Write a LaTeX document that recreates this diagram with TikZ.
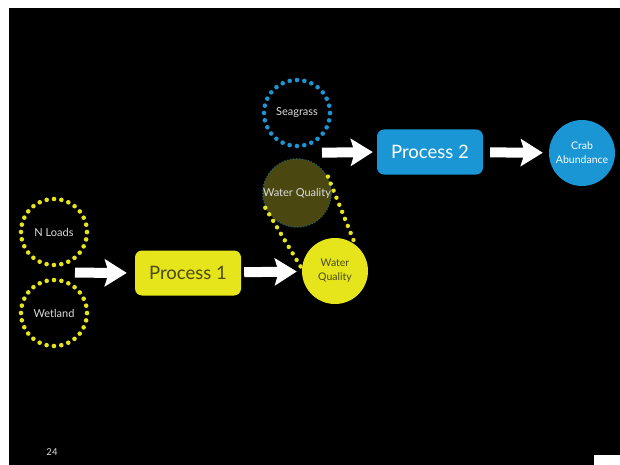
\documentclass[tikz,border=0pt]{standalone}
\usepackage{fontspec}
\setmainfont{Lato}
\usetikzlibrary{arrows.meta,positioning,calc}
\definecolor{slideyellow}{HTML}{E6E41A}
\definecolor{slideblue}{HTML}{1A96D4}
\definecolor{fadedolive}{HTML}{4A4710}
\definecolor{fadeddots}{HTML}{1F5F6E}
\definecolor{procink}{HTML}{4A4A14}
\definecolor{labelgray}{HTML}{DCDCDC}

\begin{document}
\begin{tikzpicture}[x=1pt, y=-1pt,
    dotring/.style={circle, minimum size=66pt, inner sep=0pt, draw=#1, line width=4.6pt, line cap=round, dash pattern=on 0pt off 7.4pt, text=labelgray, font=\fontsize{11}{13}\selectfont},
    solidring/.style={circle, minimum size=66pt, inner sep=0pt, fill=#1, align=center, font=\fontsize{10.5}{14}\selectfont},
    procbox/.style={rounded corners=7pt, minimum width=106pt, minimum height=45pt, fill=#1, font=\fontsize{18.5}{22}\selectfont},
    fatarrow/.style={white, line width=10pt, -{Stealth[width=27pt,length=22pt,inset=4pt]}},
    dotlink/.style={slideyellow, line width=4.4pt, line cap=round, dash pattern=on 0pt off 7.6pt}]
    % slide frame
    \useasboundingbox (0,0) rectangle (620,465);
    \fill[white] (0,0) rectangle (620,465);
    \fill[black] (9,8) rectangle (620,465);
    \fill[white] (594,455) rectangle (620,465);

    \node[dotring=slideblue] (seagrass) at (297,113) {Seagrass};
    \node[circle, minimum size=68pt, inner sep=0pt, fill=fadedolive, draw=fadeddots, line width=1.6pt, line cap=round, dash pattern=on 0pt off 3pt, text=labelgray, font=\fontsize{11}{13}\selectfont] (oldwq) at (297,193) {Water Quality};
    \node[solidring=slideyellow, text=procink] (wq) at (335,271) {Water\\Quality};
    \node[dotring=slideyellow] (nloads) at (54,232) {N Loads};
    \node[dotring=slideyellow] (wetland) at (54,313) {Wetland};
    \node[procbox=slideyellow, text=procink] (proc1) at (188,273) {Process 1};
    \node[procbox=slideblue, text=white] (proc2) at (430,152) {Process 2};
    \node[solidring=slideblue, text=white] (crab) at (582,153) {Crab\\Abundance};
    \node[text=labelgray, font=\fontsize{9.5}{11}\selectfont] (slidenum) at (52,452) {24};

    \coordinate (inputs) at ($(nloads)!0.5!(wetland)$);
    \coordinate (habitat) at ($(seagrass)!0.5!(oldwq)$);

    \draw[fatarrow, shorten <=21pt, shorten >=8pt] (inputs) -- (proc1.west);
    \draw[fatarrow, shorten <=3pt, shorten >=5pt] (proc1) -- (wq);
    \draw[fatarrow, shorten <=25pt, shorten >=4pt] (habitat) -- (proc2.west);
    \draw[fatarrow, shorten <=7pt, shorten >=6pt] (proc2) -- (crab);

    % link between the two water quality states
    \draw[dotlink] (oldwq.28) -- (wq.52);
    \draw[dotlink] (oldwq.205) -- (wq.176);
\end{tikzpicture}
\end{document}
